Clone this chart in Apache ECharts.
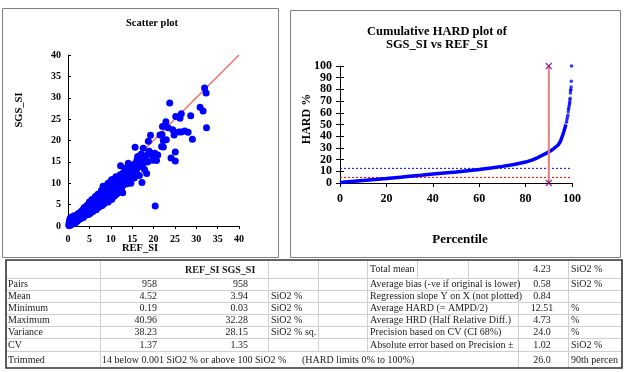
<!DOCTYPE html>
<html><head><meta charset="utf-8">
<script src="https://cdn.jsdelivr.net/npm/echarts@6/dist/echarts.min.js"></script>
<style>html,body{margin:0;padding:0;background:#fff}#c{width:624px;height:372px}</style>
</head><body><div id="c"></div>
<script>
// ---------- data ----------
const scatterTicks = [0,5,10,15,20,25,30,35,40];
const hardXTicks = [0,20,40,60,80,100];
const hardYTicks = [0,10,20,30,40,50,60,70,80,90,100];
// scatter: [REF_SI, SGS_SI] (subset of the 958 pairs)
const scatterPairs = [
[0.2,0.1],[0.25,0.5],[0.3,0.2],[0.35,1.2],[0.4,0.3],[0.45,0.8],[0.5,0.15],[0.5,1.8],[0.55,0.5],[0.6,1.0],[0.65,0.3],[0.7,1.4],[0.75,0.6],[0.8,0.9],[0.85,2.1],[0.9,0.4],[0.95,1.2],[1.0,0.8],[1.05,1.6],[1.1,0.5],[1.2,1.0],[1.25,1.9],[1.3,0.7],[1.4,1.3],[1.45,2.4],[1.5,0.9],[1.6,1.6],[1.7,1.1],[1.75,2.2],[1.8,1.4],[1.9,0.9],[2.0,1.8],[2.1,2.6],[2.15,1.3],[2.2,2.0],[2.3,1.6],[2.4,2.9],[2.5,2.2],[2.6,1.5],[2.7,2.5],[2.8,1.9],[2.9,3.2],[3.0,2.3],[3.1,1.8],
[3.2,2.7],[3.3,3.6],[3.4,2.1],[3.5,3.0],[3.6,2.5],[3.7,4.0],[3.8,3.3],[3.9,2.4],[4.0,3.7],[4.1,2.9],[4.2,4.4],[4.3,3.4],[4.4,2.7],[4.5,4.0],[4.6,3.2],[4.7,4.9],[4.8,3.7],[4.9,2.9],[5.0,4.4],[5.1,3.5],[5.2,5.4],[5.3,4.1],[5.4,3.2],[5.5,4.8],[5.6,3.8],[5.7,5.9],[5.8,4.5],[5.9,3.6],[6.0,5.2],[6.1,4.1],[6.2,6.3],[6.3,4.9],[6.4,3.9],[6.5,5.6],[6.6,4.5],[6.7,6.8],[6.8,5.3],[6.9,4.3],[7.0,6.1],[7.1,5.0],[7.2,7.3],[7.3,5.7],[7.4,4.6],[7.5,6.6],[7.6,5.4],[7.7,7.8],[7.8,6.1],[7.9,4.9],[8.0,7.0],
[8.1,5.8],[8.2,9.3],[8.3,6.5],[8.4,5.2],[8.5,7.5],[8.6,8.6],[8.7,6.2],[8.8,8.0],[8.9,5.6],[9.0,9.5],[9.1,7.0],[9.2,8.4],[9.3,6.0],[9.4,10.0],[9.5,7.6],[9.6,8.9],[9.7,6.4],[9.8,9.9],[9.9,8.0],[10.0,7.0],[10.1,9.3],[10.2,10.8],[10.3,8.4],[10.4,6.6],[10.5,9.8],[10.6,7.6],[10.8,10.6],[10.9,8.9],[11.0,7.2],[11.1,10.2],[11.3,8.2],[11.4,11.1],[11.5,9.4],[11.7,10.6],[11.8,7.9],[12.0,11.6],[12.1,9.0],[12.3,14.1],[12.4,10.2],[12.5,8.6],[12.7,11.0],[12.9,12.4],[13.0,9.6],[13.2,10.8],[13.3,13.5],[13.4,13.2],[13.6,11.5],[13.8,9.9],[14.0,12.3],[14.1,14.7],
[0.3,0.7],[0.6,0.6],[0.9,1.6],[1.1,1.1],[1.3,1.5],[1.6,0.8],[1.9,2.0],[2.2,1.2],[2.4,1.9],[2.6,2.8],[2.8,2.4],[3.0,1.9],[3.2,3.4],[3.4,3.0],[3.6,2.0],[3.8,4.3],[4.0,2.6],[4.2,3.1],[4.4,4.8],[4.6,3.9],[4.8,2.7],[5.0,5.6],[5.2,3.0],[5.4,4.6],[5.6,6.2],[5.8,3.4],[6.0,4.6],[6.2,5.8],[6.4,6.9],[6.6,3.8],[6.8,6.2],[7.0,7.4],[7.2,4.4],[7.4,5.9],[7.6,7.0],[7.8,8.3],[8.0,4.8],[8.2,6.9],[8.4,8.1],[8.6,5.9],[8.8,9.1],[9.0,6.6],[9.2,7.7],[9.4,5.6],[9.6,9.5],[9.8,7.2],[10.0,10.4],[10.2,6.2],[10.4,8.9],[10.6,10.9],[10.8,7.0],[11.0,9.1],[11.2,11.5],[11.4,7.5],[11.6,8.8],[11.9,10.1],[12.2,12.0],[12.6,9.8],[12.8,7.8],
[14.2,13.6],[14.4,10.8],[14.6,12.8],[14.7,10.0],[14.9,14.2],[15.1,12.0],[15.2,13.9],[15.3,13.5],[15.5,11.2],[15.7,18.4],[15.8,14.6],[16.0,12.9],[16.2,15.6],[16.3,16.25],[16.4,14.3],[16.5,13.8],[16.7,11.8],[16.9,15.0],[17.1,16.8],[17.3,10.2],[17.4,14.2],[17.6,18.2],[17.7,15.8],[17.9,13.2],[18.1,16.4],[18.4,16.5],[18.4,12.3],[18.6,15.0],[18.8,19.8],[19.0,17.5],[19.3,21.25],[19.5,16.9],[19.7,15.4],[20.1,15.5],[20.3,17.0],[20.4,4.7],[20.7,15.3],[21.0,16.6],
[21.5,21.3],[21.9,18.6],[22.0,21.4],[22.1,23.3],[22.3,20.0],[22.3,18.5],[22.9,24.4],[23.0,20.2],[23.4,23.0],[23.8,28.75],[24.1,15.9],[24.5,22.5],[24.8,21.3],[25.1,17.3],[25.1,15.2],[25.2,25.6],[25.9,22.0],[26.2,25.2],[26.5,26.25],[26.5,22.0],[27.3,22.2],[28.1,21.95],[28.7,25.8],[29.1,20.3],[30.9,27.8],[31.6,26.9],[31.95,32.3],[32.3,31.1],[32.4,23.0]
];
// cumulative HARD curve (percentile, HARD %)
const hardPct = [0,2,5,10,15,20,25,30,35,40,45,50,55,60,65,70,75,80,83,85,87,89,90,91,92,93,94,95,96,96.5,97,97.4];
const hardVal = [0.3,0.8,1.3,2.1,2.9,3.8,4.8,5.7,6.6,7.6,8.5,9.4,10.5,11.6,12.8,14.2,15.8,17.9,19.8,21.5,23.5,25.5,26.6,27.8,29.2,30.8,32.5,35.5,41,44,47.5,50];
const tailPct = [97.6,97.8,98.0,98.2,98.4,98.5,98.6,98.8,98.9,99.0,99.1,99.2,99.3,99.4,99.5,99.6,99.7,99.8];
const tailVal = [52,54,56,58,61,63,64,66,67.5,69,71,72.5,77,79,80,82,87,100];
// table
const tableHeader = 'REF_SI SGS_SI';
const statLabels = ['Pairs','Mean','Minimum','Maximum','Variance','CV'];
const refVals = ['958','4.52','0.19','40.96','38.23','1.37'];
const sgsVals = ['958','3.94','0.03','32.28','28.15','1.35'];
const statUnits = ['','SiO2 %','SiO2 %','SiO2 %','SiO2 % sq.',''];
const trimmedLabel = 'Trimmed';
const trimmedText = '14 below 0.001 SiO2 % or above 100 SiO2 %';
const limitsText = '(HARD limits 0% to 100%)';
const sumLabels = ['Total mean','Average bias (-ve if original is lower)','Regression slope Y on X (not plotted)','Average HARD (= AMPD/2)','Average HRD (Half Relative Diff.)','Precision based on CV (CI 68%)','Absolute error based on Precision \u00b1',''];
const sumVals = ['4.23','0.58','0.84','12.51','4.73','24.0','1.02','26.0'];
const sumUnits = ['SiO2 %','SiO2 %','','%','%','%','SiO2 %','90th percen'];
const avgHard = 12.51, avgHrd = 4.73, pctLine = 90;

// ---------- build ----------
const FONT = '"Liberation Serif","Times New Roman",serif';
const chart = echarts.init(document.getElementById('c'));
const g = [];
function txt(x,y,s,size,opt){opt=opt||{};g.push({type:'text',x:x,y:y,rotation:opt.rot||0,z:10,style:{text:s,fill:opt.fill||'#1a1a1a',font:(opt.bold?'bold ':'')+size+'px '+FONT,align:opt.align||'left',verticalAlign:'middle'}});}
function ln(x1,y1,x2,y2,c,w){g.push({type:'line',z:5,shape:{x1:x1,y1:y1,x2:x2,y2:y2},style:{stroke:c,lineWidth:w}});}
// panels
g.push({type:'rect',shape:{x:2.5,y:8.5,width:276,height:249},style:{fill:'none',stroke:'#808080',lineWidth:1}});
g.push({type:'rect',shape:{x:290.5,y:10.5,width:330,height:247},style:{fill:'none',stroke:'#808080',lineWidth:1}});
txt(152,23,'Scatter plot',10.5,{bold:true,align:'center',fill:'#000'});
txt(437,32,'Cumulative HARD plot of',12.5,{bold:true,align:'center',fill:'#000'});
txt(437,45,'SGS_SI vs REF_SI',12.5,{bold:true,align:'center',fill:'#000'});
txt(19,110,'SGS_SI',10.5,{bold:true,align:'center',rot:Math.PI/2,fill:'#000'});
txt(140,248,'REF_SI',10.5,{bold:true,align:'center',fill:'#000'});
txt(307,119,'HARD %',12,{bold:true,align:'center',rot:Math.PI/2,fill:'#000'});
txt(460,240,'Percentile',13,{bold:true,align:'center',fill:'#000'});
// table grid
const T=260,B=368, rowY=[260,278,290,302,314,326,338,351,368];
const GC='#cfcfcf';
for(let i=1;i<rowY.length-1;i++) ln(6,rowY[i]+0.5,622,rowY[i]+0.5,GC,1);
[[100,T,B],[268,T,351],[318,T,351],[367,T,351],[417,T,278],[468,T,278],[518,T,B],[568,T,B]].forEach(v=>ln(v[0]+0.5,v[1],v[0]+0.5,v[2],GC,1));
g.push({type:'rect',z:6,shape:{x:6,y:260,width:616,height:108},style:{fill:'none',stroke:'#333',lineWidth:1.6}});
const FS=10;
txt(185,270,tableHeader,FS,{bold:true});
statLabels.forEach((s,i)=>{const cy=(rowY[i+1]+rowY[i+2])/2+0.5;txt(8,cy,s,FS);txt(157,cy,refVals[i],FS,{align:'right'});txt(248,cy,sgsVals[i],FS,{align:'right'});if(statUnits[i])txt(271,cy,statUnits[i],FS);});
txt(8,360,trimmedLabel,FS);txt(102,360,trimmedText,FS);txt(302,360,limitsText,FS);
sumLabels.forEach((s,i)=>{const cy=(rowY[i]+rowY[i+1])/2+0.5;if(s)txt(370,cy,s,FS);txt(542,cy,sumVals[i],FS,{align:'center'});if(sumUnits[i])txt(571,cy,sumUnits[i],FS);});

const axLab = (fs)=>({color:'#000',fontWeight:'bold',fontSize:fs,fontFamily:FONT,showMinLabel:true,showMaxLabel:true,hideOverlap:false});
const blk = {lineStyle:{color:'#000',width:1}};
const evenY = hardYTicks.filter((v,i)=>i%2===0), oddY = hardYTicks.filter((v,i)=>i%2===1);
const option = {
  animation:false,
  grid:[{left:68,top:55,width:171,height:171},{left:340,top:66,width:232,height:117}],
  xAxis:[
    {type:'value',gridIndex:0,min:0,max:40,interval:5,axisLine:Object.assign({show:true},blk),axisTick:Object.assign({show:true,length:3,inside:false},blk),splitLine:{show:false},axisLabel:Object.assign(axLab(10),{margin:8})},
    {type:'value',gridIndex:1,min:0,max:100,interval:20,axisLine:Object.assign({show:true},blk),axisTick:Object.assign({show:true,length:4},blk),splitLine:{show:false},axisLabel:Object.assign(axLab(12),{margin:10})}
  ],
  yAxis:[
    {type:'value',gridIndex:0,min:0,max:40,interval:5,axisLine:Object.assign({show:true},blk),axisTick:Object.assign({show:true,length:3,inside:true},blk),splitLine:{show:false},axisLabel:Object.assign(axLab(10),{margin:7})},
    {type:'value',gridIndex:1,min:0,max:100,interval:10,axisLine:Object.assign({show:true},blk),axisTick:Object.assign({show:true,length:4},blk),splitLine:{show:false},axisLabel:Object.assign(axLab(12),{margin:8,customValues:evenY})},
    {type:'value',gridIndex:1,position:'left',min:0,max:100,interval:10,axisLine:{show:false},axisTick:Object.assign({show:true,length:4,inside:true},blk),splitLine:{show:false},axisLabel:Object.assign(axLab(12),{margin:8,customValues:oddY})}
  ],
  series:[
    {type:'line',xAxisIndex:0,yAxisIndex:0,data:[[0,0],[40,40]],symbol:'none',z:1,color:'#F06060',itemStyle:{color:'#F06060'},lineStyle:{color:'#F06060',width:1.2}},
    {type:'scatter',xAxisIndex:0,yAxisIndex:0,data:scatterPairs,symbolSize:7,z:3,itemStyle:{color:'#0000FF',opacity:1}},
    {type:'line',xAxisIndex:1,yAxisIndex:1,data:[[0,avgHard],[100,avgHard]],symbol:'none',lineStyle:{color:'#0000FF',width:1,type:[2,2]}},
    {type:'line',xAxisIndex:1,yAxisIndex:1,data:[[0,avgHrd],[100,avgHrd]],symbol:'none',lineStyle:{color:'#FF0000',width:1,type:[2,2]}},
    {type:'line',xAxisIndex:1,yAxisIndex:1,data:hardPct.map((p,i)=>[p,hardVal[i]]),symbol:'none',z:3,lineStyle:{color:'#0000FF',width:3.5}},
    {type:'scatter',xAxisIndex:1,yAxisIndex:1,data:tailPct.map((p,i)=>[p,tailVal[i]]),symbolSize:3.5,z:3,itemStyle:{color:'#0000FF'}},
    {type:'line',xAxisIndex:1,yAxisIndex:1,data:[[pctLine,0],[pctLine,100]],symbol:'none',z:4,lineStyle:{color:'#E87C7C',width:2}},
    {type:'scatter',xAxisIndex:1,yAxisIndex:1,data:[[pctLine,0],[pctLine,100]],symbol:'path://M0,0L10,10M10,0L0,10',symbolSize:6,z:5,itemStyle:{color:'none',borderColor:'#800080',borderWidth:1.3}}
  ],
  graphic:g
};
chart.setOption(option);
</script></body></html>
